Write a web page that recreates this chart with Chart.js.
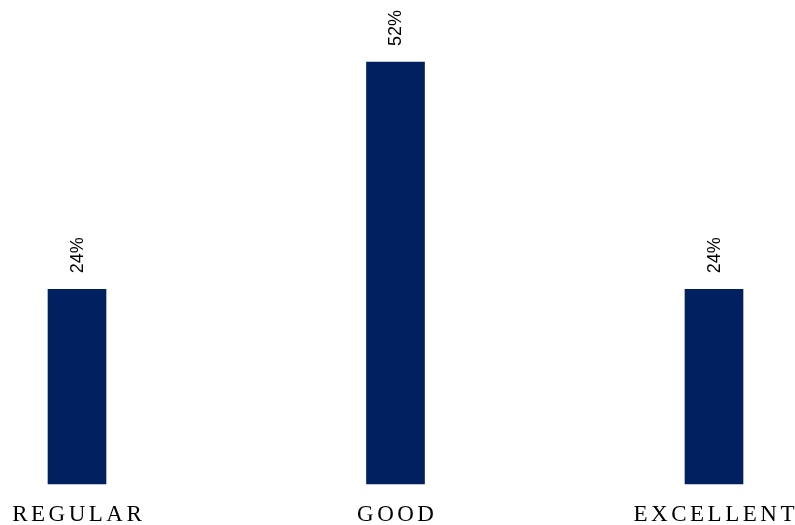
<!DOCTYPE html>
<html>
<head>
<meta charset="utf-8">
<script src="https://cdn.jsdelivr.net/npm/chart.js@4.4.1/dist/chart.umd.min.js"></script>
<style>
  html, body { margin: 0; padding: 0; background: #fff; }
  #wrap { width: 795px; height: 525px; position: relative; }
</style>
</head>
<body>
<div id="wrap"><canvas id="chart"></canvas></div>
<script>
var categories = ['REGULAR', 'GOOD', 'EXCELLENT'];
var shares = [24, 52, 24];

var barColor = '#002060';

// Rotated percentage labels above each bar
var valueLabels = {
  id: 'valueLabels',
  afterDatasetsDraw: function (chart) {
    var ctx = chart.ctx;
    var meta = chart.getDatasetMeta(0);
    ctx.save();
    ctx.fillStyle = '#000';
    ctx.font = '18px "Liberation Sans", Arial, sans-serif';
    ctx.textAlign = 'left';
    ctx.textBaseline = 'middle';
    meta.data.forEach(function (bar, i) {
      ctx.save();
      ctx.translate(bar.x + 1, bar.y - 16);
      ctx.rotate(-Math.PI / 2);
      ctx.fillText(shares[i] + '%', 0, 0);
      ctx.restore();
    });
    ctx.restore();
  }
};

// Spaced-out category captions under the axis
var spacedTicks = {
  id: 'spacedTicks',
  afterDraw: function (chart) {
    var ctx = chart.ctx;
    var x = chart.scales.x;
    var gap = 3.5;
    ctx.save();
    ctx.fillStyle = '#000';
    ctx.font = '23px "Liberation Serif", "Times New Roman", serif';
    ctx.letterSpacing = gap + 'px';
    ctx.textAlign = 'left';
    ctx.textBaseline = 'alphabetic';
    categories.forEach(function (c, i) {
      var w = ctx.measureText(c).width - gap;
      ctx.fillText(c, x.getPixelForTick(i) - w / 2, 521);
    });
    ctx.restore();
  }
};

new Chart(document.getElementById('chart').getContext('2d'), {
  type: 'bar',
  data: {
    labels: categories,
    datasets: [{
      data: shares,
      backgroundColor: barColor,
      borderWidth: 0,
      barThickness: 58,
      clip: false
    }]
  },
  options: {
    responsive: true,
    maintainAspectRatio: false,
    animation: false,
    layout: { padding: { left: 77, right: 81, top: 62, bottom: 33 } },
    plugins: { legend: { display: false }, tooltip: { enabled: false } },
    scales: {
      x: {
        offset: false,
        grid: { display: false },
        border: { display: false },
        ticks: { display: false }
      },
      y: {
        display: false,
        min: 0,
        max: 52
      }
    }
  },
  plugins: [valueLabels, spacedTicks]
});
</script>
</body>
</html>
